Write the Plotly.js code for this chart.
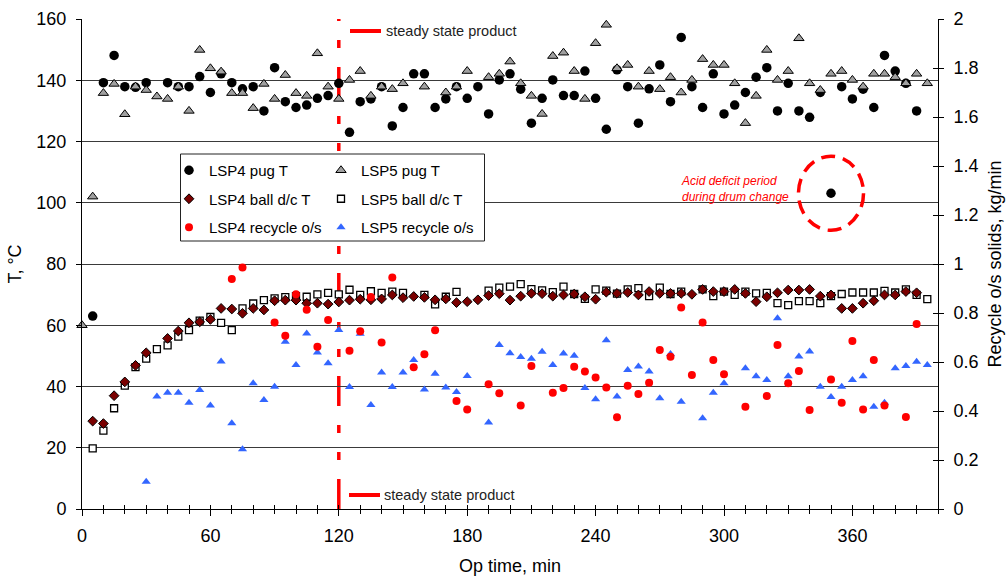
<!DOCTYPE html>
<html>
<head>
<meta charset="utf-8">
<script src="https://cdn.plot.ly/plotly-3.0.1.min.js"></script>
<style>html,body{margin:0;padding:0;background:#fff;}#chart{width:1006px;height:576px;}</style>
</head>
<body>
<div id="chart"></div>
<script>
// ---- data (Op time, min / values) ----
var lsp4PugT_t = [5,10,15,20,25,30,40,45,50,55,60,65,70,75,80,85,90,95,100,105,110,115,120,125,130,135,140,145,150,155,160,165,170,175,180,185,190,195,200,205,210,215,220,225,230,235,240,245,250,255,260,265,270,275,280,285,290,295,300,305,310,315,320,325,330,335,340,345,350,355,360,365,370,375,380,385,390];
var lsp4PugT = [63.0,139.2,148.1,137.9,137.7,139.2,139.2,137.9,137.9,141.2,136.0,142.1,139.2,137.2,137.9,130.0,144.1,133.0,131.1,131.9,134.1,135.0,139.0,123.0,133.0,133.9,137.9,125.1,131.1,142.1,142.1,131.1,133.9,137.9,134.1,137.9,129.0,140.1,142.1,137.1,126.0,134.1,140.1,135.0,135.0,143.0,134.1,124.0,143.4,137.9,126.0,137.2,145.0,133.0,154.0,137.9,131.1,142.1,129.0,131.9,136.0,141.0,144.1,130.0,139.0,130.0,127.9,136.0,103.1,137.9,133.9,137.1,131.1,148.1,143.0,139.0,130.0];

var lsp5PugT_t = [0,5,10,15,20,25,30,35,40,45,50,55,60,65,70,75,80,85,90,95,100,105,110,115,120,125,130,135,140,145,150,160,170,175,180,190,195,200,205,210,215,220,225,230,235,240,245,250,255,260,265,270,275,280,285,290,295,300,305,310,315,320,325,330,335,340,345,350,355,360,365,370,375,380,385,390,395];
var lsp5PugT = [60.0,102.0,135.8,138.8,128.9,137.9,136.8,134.7,133.9,137.9,130.0,149.9,143.9,142.8,135.8,135.8,130.9,138.8,133.9,141.7,135.8,134.9,148.8,137.9,133.9,140.1,143.0,134.9,137.9,137.1,139.0,137.9,136.0,137.9,143.0,141.0,142.1,146.1,139.0,134.9,129.0,147.9,149.0,143.0,133.9,152.1,158.1,143.9,145.0,137.9,143.0,137.1,141.0,136.0,140.1,146.9,145.0,145.0,139.0,126.0,134.9,149.9,140.1,143.0,153.7,139.0,136.8,142.1,143.0,140.1,137.9,142.1,142.1,141.0,139.0,142.1,139.0];

var lsp4BallT_t = [5,10,15,20,25,30,40,45,50,55,60,65,70,75,80,85,90,95,100,105,110,115,120,125,130,135,140,145,150,155,160,165,170,175,180,185,190,195,200,205,210,215,220,225,230,235,240,245,250,255,260,265,270,275,280,285,290,295,300,305,310,315,320,325,330,335,340,345,350,355,360,365,370,375,380,385,390];
var lsp4BallT = [28.7,27.9,37.0,41.5,46.9,51.0,55.7,58.1,60.8,61.1,61.9,65.5,65.3,63.9,65.5,65.0,68.0,68.2,68.2,67.2,67.2,66.9,67.6,68.2,68.5,68.3,68.6,69.9,69.0,69.4,69.1,68.3,68.6,67.4,67.7,68.3,69.7,70.3,68.2,69.5,70.4,70.3,69.5,69.9,70.2,69.3,68.5,70.8,70.4,70.7,69.9,71.0,70.4,70.4,70.4,70.1,71.7,71.0,71.0,71.7,70.4,67.7,69.3,70.6,71.5,71.5,71.7,69.5,69.9,65.5,65.5,67.2,68.0,69.9,69.9,71.0,70.6];

var lsp5BallT_t = [5,10,15,20,25,30,35,40,45,50,55,60,65,70,75,80,85,90,95,100,105,110,115,120,125,130,135,140,145,150,160,165,170,175,190,195,200,205,210,215,220,225,230,235,240,245,250,255,260,265,270,275,280,290,295,300,305,310,315,320,325,330,335,340,345,350,355,360,365,370,375,380,385,390,395];
var lsp5BallT = [19.8,25.6,32.9,40.3,46.3,49.1,52.2,53.4,56.3,58.4,61.5,62.7,60.8,58.4,65.5,67.1,68.2,68.8,69.2,69.5,69.3,70.1,70.6,70.1,71.6,69.9,71.1,70.6,71.0,70.6,69.9,66.8,69.3,70.9,71.3,72.3,72.6,73.4,71.8,71.4,70.8,72.6,70.2,68.6,71.7,71.3,70.3,71.7,72.1,69.5,72.3,70.2,71.0,71.7,69.5,71.0,69.9,71.0,70.4,70.6,67.2,66.6,67.9,67.9,67.2,69.5,70.2,70.7,70.7,70.7,71.2,70.7,71.7,69.9,68.5];

var lsp4Recycle_t = [70,75,90,95,100,105,110,115,125,130,135,140,145,155,160,165,175,180,190,195,205,210,220,225,230,235,240,245,250,255,260,265,270,275,280,285,290,295,300,310,320,325,330,335,340,350,355,360,365,370,375,385,390];
var lsp4Recycle = [0.939,0.986,0.761,0.707,0.877,0.813,0.662,0.771,0.646,0.726,0.865,0.680,0.945,0.579,0.632,0.730,0.441,0.406,0.509,0.472,0.422,0.584,0.474,0.494,0.581,0.561,0.537,0.496,0.374,0.503,0.469,0.515,0.649,0.621,0.822,0.547,0.761,0.608,0.550,0.417,0.461,0.669,0.513,0.563,0.404,0.529,0.434,0.686,0.406,0.608,0.422,0.376,0.755];

var lsp5Recycle_t = [30,35,40,45,50,55,60,65,70,75,80,85,90,95,100,105,110,115,120,125,130,135,140,145,150,155,160,165,170,175,180,190,195,200,205,210,215,220,225,230,235,240,245,250,255,260,265,270,275,280,290,295,300,310,315,320,325,330,335,340,345,350,355,360,365,370,375,380,385,390,395];
var lsp5Recycle = [0.111,0.459,0.475,0.475,0.434,0.486,0.422,0.602,0.350,0.244,0.513,0.445,0.499,0.683,0.588,0.716,0.639,0.595,0.731,0.498,0.715,0.425,0.557,0.498,0.557,0.608,0.488,0.552,0.496,0.478,0.543,0.353,0.669,0.636,0.620,0.613,0.642,0.588,0.635,0.626,0.494,0.448,0.689,0.459,0.567,0.582,0.561,0.452,0.633,0.438,0.370,0.475,0.513,0.574,0.542,0.527,0.779,0.542,0.622,0.643,0.499,0.457,0.499,0.527,0.542,0.417,0.434,0.574,0.584,0.601,0.588];

var xTicks = [0,60,120,180,240,300,360];
var steadyStateTime = 120;
var acidPoint = {t: 350, T: 103.1};

// ---- layout helpers ----
var FONT = 'Liberation Sans, Arial, sans-serif';
var L = 82, R = 938, T = 19, B = 509;
var W = 1006, H = 576;
function px2paperX(p){ return (p - L) / (R - L); }
function px2paperY(p){ return (B - p) / (B - T); }

var traces = [
  {name:'LSP4 pug T', x:lsp4PugT_t, y:lsp4PugT, type:'scatter', mode:'markers', legend:'legend', legendgroup:'a1', cliponaxis:false,
   marker:{symbol:'circle', size:9.5, color:'#000000'}},
  {name:'LSP5 pug T', x:lsp5PugT_t, y:lsp5PugT, type:'scatter', mode:'markers', legend:'legend2', legendgroup:'b1', cliponaxis:false,
   marker:{symbol:'triangle-up', size:9, color:'#a0a0a0', line:{color:'#000', width:1}}},
  {name:'LSP5 ball d/c T', x:lsp5BallT_t, y:lsp5BallT, type:'scatter', mode:'markers', legend:'legend2', legendgroup:'b2',
   marker:{symbol:'square', size:7, color:'#ffffff', line:{color:'#000', width:1.3}}},
  {name:'LSP4 ball d/c T', x:lsp4BallT_t, y:lsp4BallT, type:'scatter', mode:'markers', legend:'legend', legendgroup:'a2',
   marker:{symbol:'diamond', size:7.5, color:'#7a0000', line:{color:'#000', width:1}}},
  {name:'LSP5 recycle o/s', x:lsp5Recycle_t, y:lsp5Recycle, type:'scatter', mode:'markers', yaxis:'y2', legend:'legend2', legendgroup:'b3',
   marker:{symbol:'triangle-up', size:8, color:'#3366ff'}},
  {name:'LSP4 recycle o/s', x:lsp4Recycle_t, y:lsp4Recycle, type:'scatter', mode:'markers', yaxis:'y2', legend:'legend', legendgroup:'a3',
   marker:{symbol:'circle', size:8, color:'#ff0000'}},
  // empty helpers so that the crossing tick overlays are drawn
  {x:[], y:[], type:'scatter', mode:'markers', yaxis:'y3', showlegend:false, hoverinfo:'skip'},
  {x:[], y:[], type:'scatter', mode:'markers', xaxis:'x2', showlegend:false, hoverinfo:'skip'}
];

var legendCommon = {
  xanchor:'left', yanchor:'top', bgcolor:'rgba(0,0,0,0)', borderwidth:0,
  font:{family:FONT, size:15, color:'#000'}, tracegroupgap:6, orientation:'v'
};

var layout = {
  width:W, height:H,
  margin:{l:L, r:W-R, t:T, b:H-B, pad:0},
  paper_bgcolor:'#fff', plot_bgcolor:'#fff',
  font:{family:FONT, size:18, color:'#000'},
  showlegend:true,
  legend:Object.assign({}, legendCommon, {x:px2paperX(169), y:px2paperY(154)}),
  legend2:Object.assign({}, legendCommon, {x:px2paperX(321), y:px2paperY(154)}),
  xaxis:{range:[0,400], tickmode:'array', tickvals:xTicks, ticks:'outside', ticklen:6, tickcolor:'#000', tickwidth:1,
         showline:true, linecolor:'#000', linewidth:1, showgrid:false, zeroline:false,
         minor:{dtick:10, tick0:0, ticks:'outside', ticklen:4, tickcolor:'#000', showgrid:false},
         tickfont:{size:18, color:'#000'}, ticklabelstandoff:4,
         title:{text:'Op time, min', font:{size:18, color:'#000'}, standoff:14}},
  xaxis2:{range:[0,400], overlaying:'x', anchor:'y', side:'bottom', dtick:10, tick0:0, ticks:'inside', ticklen:4,
          tickcolor:'#000', showticklabels:false, showline:false, showgrid:false, zeroline:false},
  yaxis:{range:[0,160], dtick:20, tick0:0, ticks:'outside', ticklen:5, tickcolor:'#000',
         showline:true, linecolor:'#000', linewidth:1, showgrid:true, gridcolor:'#3a3a3a', gridwidth:1, zeroline:false,
         tickfont:{size:18, color:'#000'}, ticklabelstandoff:6,
         title:{text:'T, °C', font:{size:18, color:'#000'}, standoff:10}},
  yaxis2:{range:[0,2], dtick:0.2, tick0:0, overlaying:'y', side:'right', anchor:'x', ticks:'outside', ticklen:5, tickcolor:'#000',
          showline:true, linecolor:'#000', linewidth:1, showgrid:false, zeroline:false,
          tickfont:{size:18, color:'#000'}, ticklabelstandoff:6,
          title:{text:'Recycle o/s solids, kg/min', font:{size:18, color:'#000'}, standoff:10}},
  yaxis3:{range:[0,2], dtick:0.2, tick0:0, overlaying:'y', side:'right', anchor:'x', ticks:'inside', ticklen:5, tickcolor:'#000',
          showticklabels:false, showline:false, showgrid:false, zeroline:false},
  shapes:[
    // steady-state vertical dashed line
    {type:'line', xref:'x', yref:'y', x0:steadyStateTime, x1:steadyStateTime, y0:0, y1:160, layer:'below',
     line:{color:'#ff0000', width:3.5, dash:'30px,19px,8px,19px,8px,19px'}},
    // legend-like red marks for "steady state product"
    {type:'line', xref:'paper', yref:'paper', x0:px2paperX(350), x1:px2paperX(381), y0:px2paperY(31), y1:px2paperY(31),
     line:{color:'#ff0000', width:4}},
    {type:'line', xref:'paper', yref:'paper', x0:px2paperX(349), x1:px2paperX(380), y0:px2paperY(495), y1:px2paperY(495),
     line:{color:'#ff0000', width:4}},
    // legend box
    {type:'rect', xref:'paper', yref:'paper', x0:px2paperX(180.5), x1:px2paperX(484.5), y0:px2paperY(241), y1:px2paperY(154),
     layer:'above', fillcolor:'#ffffff', line:{color:'#222', width:1}},
    // dashed circle around acid deficit point
    {type:'circle', xref:'x', yref:'y', x0:acidPoint.t-15.2, x1:acidPoint.t+15.2, y0:acidPoint.T-12.1, y1:acidPoint.T+12.1,
     layer:'above', line:{color:'#ff0000', width:3.5, dash:'14px,8px'}}
  ],
  annotations:[
    {xref:'paper', yref:'paper', x:px2paperX(384), y:px2paperY(31), xanchor:'left', yanchor:'middle', showarrow:false,
     text:'steady state product', font:{size:14.5, color:'#222'}},
    {xref:'paper', yref:'paper', x:px2paperX(382), y:px2paperY(495), xanchor:'left', yanchor:'middle', showarrow:false,
     text:'steady state product', font:{size:14.5, color:'#222'}},
    {xref:'paper', yref:'paper', x:px2paperX(679), y:px2paperY(189), xanchor:'left', yanchor:'middle', align:'left', showarrow:false,
     text:'<i>Acid deficit period<br>during drum change</i>', font:{size:12, color:'#ff0000'}}
  ]
};

Plotly.newPlot('chart', traces, layout, {displayModeBar:false, staticPlot:true});
</script>
</body>
</html>
